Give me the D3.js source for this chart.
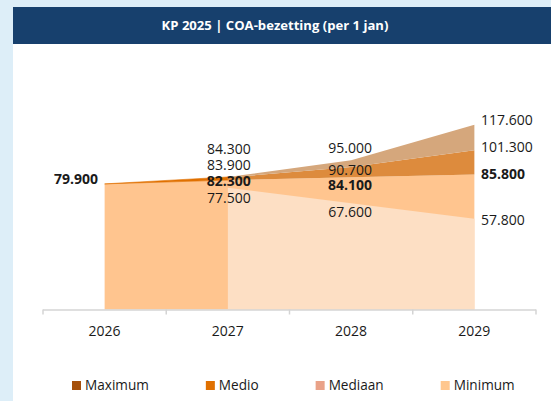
<!DOCTYPE html>
<html><head><meta charset="utf-8">
<script src="https://cdn.jsdelivr.net/npm/d3@7"></script>
<style>
html,body{margin:0;padding:0;background:#DDEEF8;}
svg{display:block;}
</style></head>
<body>
<svg id="chart" width="551" height="401"></svg>
<script>
// ---- data ----
const years = ["2026", "2027", "2028", "2029"];
const maximum = [79900, 84300, 95000, 117600];
const medio   = [79900, 83900, 90700, 101300];
const mediaan = [79900, 82300, 84100, 85800];
const minimum = [79900, 77500, 67600, 57800];
const seriesNames = ["Maximum", "Medio", "Mediaan", "Minimum"];
const title = "KP 2025 | COA-bezetting (per 1 jan)";

// ---- layout / style ----
const W = 551, H = 401;
const legendColors = ["#A5500B", "#E07000", "#E9A288", "#FFC78F"];
const fillMaxBand = "#D5A77C", fillMedioBand = "#DD8B3D", fillMedian = "#FFC58F",
      fillMin = "#FDDFC4", fillFirst = "#E07000";
// label nudges (px) per year, per series [max, medio, mediaan, min]
const labelDy = [
  [0, 0, -5, 0],
  [-28, -12.6, 1, 10.3],
  [-12, 3, 7.7, 8.8],
  [-4.6, -3.3, -0.6, 1.4]
];

const nl = d3.formatLocale({decimal: ",", thousands: ".", grouping: [3], currency: ["€", ""]});
const fmt = nl.format(",d");

const svg = d3.select("#chart");
svg.append("rect").attr("x", 13).attr("y", 44).attr("width", W - 13).attr("height", H - 44).attr("fill", "#fff");
svg.append("rect").attr("x", 13).attr("y", 7).attr("width", W - 13).attr("height", 37).attr("fill", "#17406D");
svg.append("text").attr("x", 275).attr("y", 25.5).attr("dy", "0.36em")
  .attr("text-anchor", "middle").attr("fill", "#fff")
  .style("font-family", "'Open Sans', sans-serif").style("font-weight", "bold").style("font-size", "13.1px")
  .text(title);

const x = d3.scaleBand().domain(years).range([43, 536]).padding(0);
const cx = d => x(d) + x.bandwidth() / 2;
const y = d3.scaleLinear().domain([0, 140000]).range([309.5, 309.5 - 140 * 1.572]);

const rows = years.map((yr, i) => ({yr, i, max: maximum[i], medio: medio[i], med: mediaan[i], min: minimum[i]}));
const g = svg.append("g");

// median area (whole span)
g.append("path").datum(rows)
  .attr("d", d3.area().x(d => cx(d.yr)).y0(y(0)).y1(d => y(d.med)))
  .attr("fill", fillMedian);
// minimum area (from 2027)
g.append("path").datum(rows.slice(1))
  .attr("d", d3.area().x(d => cx(d.yr)).y0(y(0)).y1(d => y(d.min)))
  .attr("fill", fillMin);
// first segment: mediaan -> maximum
g.append("path").datum(rows.slice(0, 2))
  .attr("d", d3.area().x(d => cx(d.yr)).y0(d => y(d.med)).y1(d => y(d.max)))
  .attr("fill", fillFirst).attr("stroke", fillFirst).attr("stroke-width", 0.6);
// later segments: medio band and max band
g.append("path").datum(rows.slice(1))
  .attr("d", d3.area().x(d => cx(d.yr)).y0(d => y(d.med)).y1(d => y(d.medio)))
  .attr("fill", fillMedioBand);
g.append("path").datum(rows.slice(1))
  .attr("d", d3.area().x(d => cx(d.yr)).y0(d => y(d.medio)).y1(d => y(d.max)))
  .attr("fill", fillMaxBand);

// axis
const ax = svg.append("g").attr("transform", `translate(0,${y(0)})`);
ax.append("line").attr("x1", 43).attr("x2", 536).attr("y1", 0.5).attr("y2", 0.5)
  .attr("stroke", "#D4D4D4").attr("stroke-width", 1.5);
const bounds = years.map(d => x(d)).concat([x(years[years.length - 1]) + x.bandwidth()]);
ax.selectAll("line.tk").data(bounds).join("line").attr("class", "tk")
  .attr("x1", d => d).attr("x2", d => d).attr("y1", 0).attr("y2", 5)
  .attr("stroke", "#D4D4D4").attr("stroke-width", 1.5);
ax.selectAll("text.yr").data(years).join("text").attr("class", "yr")
  .attr("x", d => cx(d)).attr("y", 21.5).attr("dy", "0.36em").attr("text-anchor", "middle")
  .attr("fill", "#1a1a1a").style("font-family", "'Open Sans', sans-serif").style("font-size", "14px")
  .text(d => d);

// data labels
const labels = [];
rows.forEach((r, i) => {
  const vals = [r.max, r.medio, r.med, r.min];
  vals.forEach((v, s) => {
    if (i === 0 && s !== 2) return;
    let anchor = "middle", dx = 0;
    if (i === 0) { anchor = "end"; dx = -6.6; }
    else if (i === 3) { anchor = "start"; dx = 6.6; }
    else if (i === 1) { dx = 1; }
    else { dx = -1; }
    labels.push({x: cx(r.yr) + dx, y: y(v) + labelDy[i][s], anchor, bold: s === 2, text: fmt(v)});
  });
});
svg.append("g").selectAll("text").data(labels).join("text")
  .attr("x", d => d.x).attr("y", d => d.y).attr("dy", "0.36em").attr("text-anchor", d => d.anchor)
  .attr("fill", "#1a1a1a").style("font-family", "'Open Sans', sans-serif").style("font-size", "14px")
  .style("font-weight", d => d.bold ? "bold" : "normal")
  .text(d => d.text);

// legend
const lg = svg.append("g");
let lx = 72;
seriesNames.forEach((n, i) => {
  lg.append("rect").attr("x", lx).attr("y", 381).attr("width", 9).attr("height", 9).attr("fill", legendColors[i]);
  const t = lg.append("text").attr("x", lx + 13).attr("y", 385.5).attr("dy", "0.36em")
    .attr("fill", "#1a1a1a").style("font-family", "'Open Sans', sans-serif").style("font-size", "13.6px").text(n);
  lx = lx + 13 + t.node().getComputedTextLength() + 57;
});
</script>
</body></html>
